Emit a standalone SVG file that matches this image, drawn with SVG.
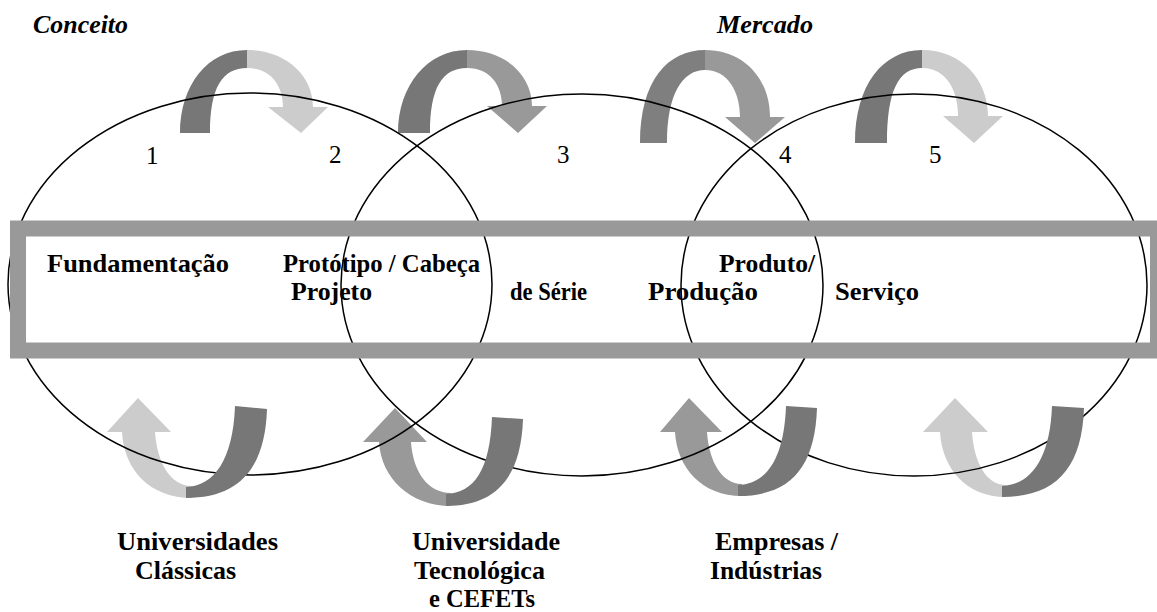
<svg xmlns="http://www.w3.org/2000/svg" width="1157" height="612" viewBox="0 0 1157 612">
<style>
.lbl{font-family:"Liberation Serif","Times New Roman",serif;font-weight:bold;fill:#000}
.hd{font-family:"Liberation Serif","Times New Roman",serif;font-weight:bold;font-style:italic;fill:#000}
.num{font-family:"Liberation Serif","Times New Roman",serif;fill:#000}
.ell{fill:none;stroke:#000;stroke-width:1.5}
.d{fill:#777777}
.dk{fill:#7f7f7f}
.m{fill:#999999}
.l{fill:#cccccc}
</style>
<rect width="1157" height="612" fill="#ffffff"/>

<g id="labels" font-size="26">
<text class="hd" font-size="25" x="33" y="33" textLength="95" lengthAdjust="spacingAndGlyphs">Conceito</text>
<text class="hd" font-size="25" x="717" y="33" textLength="96" lengthAdjust="spacingAndGlyphs">Mercado</text>
<text class="num" font-size="25" x="146" y="164">1</text>
<text class="num" font-size="25" x="329" y="163">2</text>
<text class="num" font-size="25" x="557" y="163">3</text>
<text class="num" font-size="25" x="779" y="163">4</text>
<text class="num" font-size="25" x="929" y="163">5</text>
<text class="lbl" x="47" y="272" textLength="182" lengthAdjust="spacingAndGlyphs">Fundamentação</text>
<text class="lbl" x="283" y="272" textLength="197" lengthAdjust="spacingAndGlyphs">Protótipo / Cabeça</text>
<text class="lbl" x="291" y="300" textLength="81" lengthAdjust="spacingAndGlyphs">Projeto</text>
<text class="lbl" x="510" y="300" textLength="77" lengthAdjust="spacingAndGlyphs">de Série</text>
<text class="lbl" x="648" y="300" textLength="110" lengthAdjust="spacingAndGlyphs">Produção</text>
<text class="lbl" x="719" y="272" textLength="96" lengthAdjust="spacingAndGlyphs">Produto/</text>
<text class="lbl" x="835" y="300" textLength="84" lengthAdjust="spacingAndGlyphs">Serviço</text>
<text class="lbl" x="117" y="550" textLength="161" lengthAdjust="spacingAndGlyphs">Universidades</text>
<text class="lbl" x="135" y="579" textLength="101" lengthAdjust="spacingAndGlyphs">Clássicas</text>
<text class="lbl" x="412" y="550" textLength="148" lengthAdjust="spacingAndGlyphs">Universidade</text>
<text class="lbl" x="414" y="579" textLength="131" lengthAdjust="spacingAndGlyphs">Tecnológica</text>
<text class="lbl" x="429" y="607" textLength="106" lengthAdjust="spacingAndGlyphs">e CEFETs</text>
<text class="lbl" x="715" y="550" textLength="123" lengthAdjust="spacingAndGlyphs">Empresas /</text>
<text class="lbl" x="710" y="579" textLength="112" lengthAdjust="spacingAndGlyphs">Indústrias</text>
</g>

<g id="arrowTop1">
<path class="d" d="M180,133 C180,85 208,50 247,50 L247,68 C222,68 210,88 210,133 Z"/>
<path class="l" d="M247,50 C285,50 313,75 313,107 L328,107 L301,133 L268,107 L283,107 C283,85 270,68 247,68 Z"/>
</g>
<g id="arrowTop2">
<path class="d" d="M398,133 C398,85 428,50 467,50 L467,68 C442,68 430,88 430,133 Z"/>
<path class="m" d="M467,50 C505,50 532,75 532,106 L547,106 L518,133 L487,106 L502,106 C502,85 490,68 467,68 Z"/>
</g>
<g id="arrowTop3">
<path class="dk" d="M640,143 C640,80 668,50 705,50 L705,70 C682,70 667,95 667,143 Z"/>
<path class="m" d="M705,50 C745,50 770,80 770,117 L785,117 L755,143 L725,117 L740,117 C740,92 728,70 705,70 Z"/>
</g>
<g id="arrowTop4">
<path class="d" d="M855,143 C855,85 883,50 922,50 L922,68 C898,68 887,92 887,143 Z"/>
<path class="l" d="M922,50 C962,50 988,80 988,116 L1003,116 L974,143 L943,116 L958,116 C958,90 946,68 922,68 Z"/>
</g>

<g id="arrowBot1">
<path class="l" d="M192,498 C150,498 124,470 122,432 L107,432 L138,398 L171,432 L155,432 C157,462 170,486 192,486 Z"/>
</g>
<g id="arrowBot2">
<path class="m" d="M451,506 C410,506 381,478 379,442 L363,442 L395,408 L427,442 L411,442 C413,472 428,493 451,493 Z"/>
</g>
<g id="arrowBot3">
<path class="m" d="M742,496 C702,496 677,468 675,432 L660,432 L689,398 L722,432 L707,432 C709,462 722,484 742,484 Z"/>
</g>
<g id="arrowBot4">
<path class="l" d="M1006,497 C966,497 942,468 940,432 L923,432 L955,398 L988,432 L972,432 C974,462 986,485 1006,485 Z"/>
</g>

<g id="ellipses">
<ellipse id="stage1" class="ell" cx="250" cy="284" rx="242" ry="191"/>
<ellipse id="stage2" class="ell" cx="582" cy="285" rx="241" ry="191"/>
<ellipse id="stage3" class="ell" cx="914" cy="285" rx="233" ry="191"/>
</g>

<g id="arrowBot1d">
<path class="d" d="M235,406 L267,409 C265,470 238,498 186,498 L186,487 C214,486 233,460 235,406 Z"/>
</g>
<g id="arrowBot2d">
<path class="d" d="M492,417 L523,419 C521,480 494,506 446,506 L446,494 C474,493 490,470 492,417 Z"/>
</g>
<g id="arrowBot3d">
<path class="d" d="M786,406 L817,408 C815,468 790,496 738,496 L738,485 C766,484 784,460 786,406 Z"/>
</g>
<g id="arrowBot4d">
<path class="d" d="M1052,406 L1084,408 C1082,468 1056,497 1002,497 L1002,486 C1030,485 1050,460 1052,406 Z"/>
</g>

<g id="band">
<rect x="18" y="228.5" width="1140" height="122" fill="none" stroke="#999999" stroke-width="16"/>
</g>
</svg>
